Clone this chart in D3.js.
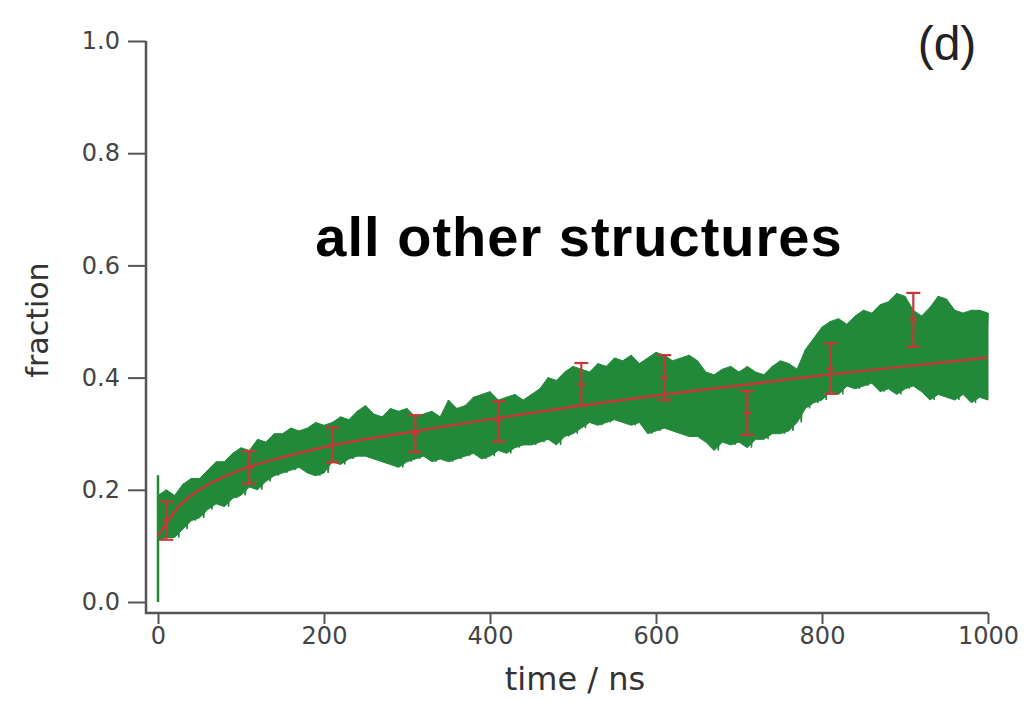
<!DOCTYPE html>
<html>
<head>
<meta charset="utf-8">
<script src="https://d3js.org/d3.v7.min.js"></script>
<style>
body { margin: 0; background: #fff; }
.tick text { font-family: "DejaVu Sans", sans-serif; fill: #444; }
</style>
</head>
<body>
<svg id="chart" width="1034" height="701"></svg>
<script>
// time axis of the noisy trace (ns), sampled every 10 ns
var times = d3.range(0, 1001, 10);

// upper / lower edge of the green trace
var traceHigh = [0.19, 0.20, 0.19, 0.21, 0.22, 0.22, 0.235, 0.25, 0.25, 0.265,
  0.275, 0.27, 0.29, 0.285, 0.30, 0.30, 0.31, 0.305, 0.31, 0.32,
  0.315, 0.32, 0.33, 0.325, 0.34, 0.35, 0.335, 0.33, 0.345, 0.34,
  0.345, 0.33, 0.335, 0.34, 0.33, 0.36, 0.345, 0.35, 0.365, 0.37,
  0.375, 0.36, 0.365, 0.37, 0.36, 0.37, 0.38, 0.40, 0.395, 0.41,
  0.42, 0.415, 0.41, 0.425, 0.42, 0.435, 0.43, 0.44, 0.425, 0.435,
  0.445, 0.44, 0.43, 0.435, 0.44, 0.43, 0.41, 0.405, 0.415, 0.42,
  0.41, 0.42, 0.41, 0.405, 0.42, 0.43, 0.425, 0.415, 0.45, 0.47,
  0.49, 0.50, 0.505, 0.495, 0.51, 0.52, 0.515, 0.53, 0.535, 0.55,
  0.545, 0.52, 0.51, 0.525, 0.545, 0.54, 0.52, 0.515, 0.52, 0.52,
  0.515];
var traceLow = [0.11, 0.115, 0.115, 0.13, 0.145, 0.15, 0.165, 0.175, 0.17, 0.185,
  0.19, 0.205, 0.20, 0.215, 0.225, 0.23, 0.235, 0.24, 0.23, 0.225,
  0.23, 0.25, 0.245, 0.255, 0.26, 0.26, 0.255, 0.25, 0.245, 0.24,
  0.25, 0.255, 0.26, 0.25, 0.255, 0.25, 0.255, 0.26, 0.265, 0.255,
  0.26, 0.27, 0.265, 0.275, 0.28, 0.28, 0.285, 0.29, 0.28, 0.295,
  0.30, 0.31, 0.32, 0.315, 0.32, 0.325, 0.32, 0.315, 0.32, 0.30,
  0.305, 0.31, 0.305, 0.30, 0.295, 0.295, 0.285, 0.27, 0.285, 0.28,
  0.285, 0.275, 0.29, 0.29, 0.30, 0.30, 0.305, 0.32, 0.345, 0.355,
  0.36, 0.375, 0.37, 0.385, 0.38, 0.385, 0.39, 0.375, 0.38, 0.37,
  0.38, 0.385, 0.375, 0.36, 0.37, 0.365, 0.36, 0.37, 0.355, 0.365,
  0.36];
// first frame spike
var startSpike = [0.0, 0.226];

// red fitted curve
var fitTimes = [0, 10, 25, 50, 75, 100, 150, 200, 300, 400, 500, 600, 700, 800, 900, 1000];
var fitValues = [0.118, 0.14, 0.17, 0.20, 0.22, 0.236, 0.258, 0.276, 0.302, 0.326, 0.348, 0.368, 0.386, 0.404, 0.42, 0.436];

// error bars
var errTimes = [10, 110, 210, 310, 410, 510, 610, 710, 810, 910];
var errMeans = [0.145, 0.24, 0.28, 0.30, 0.322, 0.388, 0.40, 0.337, 0.416, 0.503];
var errSizes = [0.034, 0.029, 0.031, 0.033, 0.036, 0.038, 0.04, 0.039, 0.045, 0.048];

var xTicks = [0, 200, 400, 600, 800, 1000];
var yTicks = [0.0, 0.2, 0.4, 0.6, 0.8, 1.0];

var green = "#22893a";
var red = "#c8383a";
var axisColor = "#555";

var svg = d3.select("#chart");

var x = d3.scaleLinear().domain([0, 1000]).range([158, 988]);
var y = d3.scaleLinear().domain([0, 1]).range([602, 41]);

var axisX = 146, axisY = 613;

// green trace: filled envelope plus a zigzag between the edges
var band = d3.area()
    .x(function(d, i) { return x(times[i]); })
    .y0(function(d, i) { return y(traceLow[i]); })
    .y1(function(d, i) { return y(traceHigh[i]); });

svg.append("path")
    .datum(times)
    .attr("d", band)
    .attr("fill", green)
    .attr("stroke", green)
    .attr("stroke-width", 1);

var zig = [];
times.forEach(function(t, i) {
    zig.push([x(t), y(traceHigh[i])]);
    if (i < times.length - 1) zig.push([x(t + 5), y(traceLow[i])]);
});
svg.append("path")
    .attr("d", d3.line()(zig))
    .attr("fill", "none")
    .attr("stroke", green)
    .attr("stroke-width", 1.5);

svg.append("line")
    .attr("x1", x(0)).attr("x2", x(0))
    .attr("y1", y(startSpike[0])).attr("y2", y(startSpike[1]))
    .attr("stroke", green)
    .attr("stroke-width", 2.5);

// fit
var fitLine = d3.line()
    .x(function(d, i) { return x(fitTimes[i]); })
    .y(function(d) { return y(d); })
    .curve(d3.curveMonotoneX);

svg.append("path")
    .datum(fitValues)
    .attr("d", fitLine)
    .attr("fill", "none")
    .attr("stroke", red)
    .attr("stroke-width", 2.5);

// error bars
var bars = svg.append("g")
    .attr("stroke", red)
    .attr("stroke-width", 2.2);

errTimes.forEach(function(t, i) {
    var cx = x(t);
    var top = y(errMeans[i] + errSizes[i]);
    var bot = y(errMeans[i] - errSizes[i]);
    var mid = y(errMeans[i]);
    bars.append("line").attr("x1", cx).attr("x2", cx).attr("y1", top).attr("y2", bot);
    bars.append("line").attr("x1", cx - 7).attr("x2", cx + 7).attr("y1", top).attr("y2", top);
    bars.append("line").attr("x1", cx - 7).attr("x2", cx + 7).attr("y1", bot).attr("y2", bot);
    bars.append("line").attr("x1", cx - 4).attr("x2", cx + 4).attr("y1", mid).attr("y2", mid);
});

// axes
var gx = svg.append("g")
    .attr("transform", "translate(0," + axisY + ")")
    .call(d3.axisBottom(x).tickValues(xTicks).tickSize(11).tickPadding(3).tickFormat(d3.format("d")));
gx.select(".domain").remove();
gx.selectAll(".tick line").attr("stroke", axisColor).attr("stroke-width", 2);
gx.selectAll(".tick text").style("font-size", "24px");

var gy = svg.append("g")
    .attr("transform", "translate(" + axisX + ",0)")
    .call(d3.axisLeft(y).tickValues(yTicks).tickSize(18).tickPadding(8).tickFormat(d3.format(".1f")));
gy.select(".domain").remove();
gy.selectAll(".tick line").attr("stroke", axisColor).attr("stroke-width", 2);
gy.selectAll(".tick text").style("font-size", "24px");

svg.append("path")
    .attr("d", "M" + axisX + "," + y(1) + "V" + axisY + "H" + x(1000))
    .attr("fill", "none")
    .attr("stroke", axisColor)
    .attr("stroke-width", 2.5);

// labels
svg.append("text")
    .attr("x", 575).attr("y", 690)
    .attr("text-anchor", "middle")
    .style("font-family", "DejaVu Sans, sans-serif")
    .style("font-size", "32px")
    .attr("fill", "#333")
    .text("time / ns");

svg.append("text")
    .attr("transform", "translate(48,320) rotate(-90)")
    .attr("text-anchor", "middle")
    .style("font-family", "DejaVu Sans, sans-serif")
    .style("font-size", "30px")
    .attr("fill", "#333")
    .text("fraction");

svg.append("text")
    .attr("x", 579).attr("y", 256)
    .attr("text-anchor", "middle")
    .style("font-family", "Liberation Sans, Arial, sans-serif")
    .style("font-weight", "bold")
    .style("font-size", "56px")
    .style("letter-spacing", "1px")
    .attr("fill", "#000")
    .text("all other structures");

svg.append("text")
    .attr("x", 947).attr("y", 60)
    .attr("text-anchor", "middle")
    .style("font-family", "Liberation Sans, Arial, sans-serif")
    .style("font-size", "48px")
    .attr("fill", "#222")
    .text("(d)");
</script>
</body>
</html>
